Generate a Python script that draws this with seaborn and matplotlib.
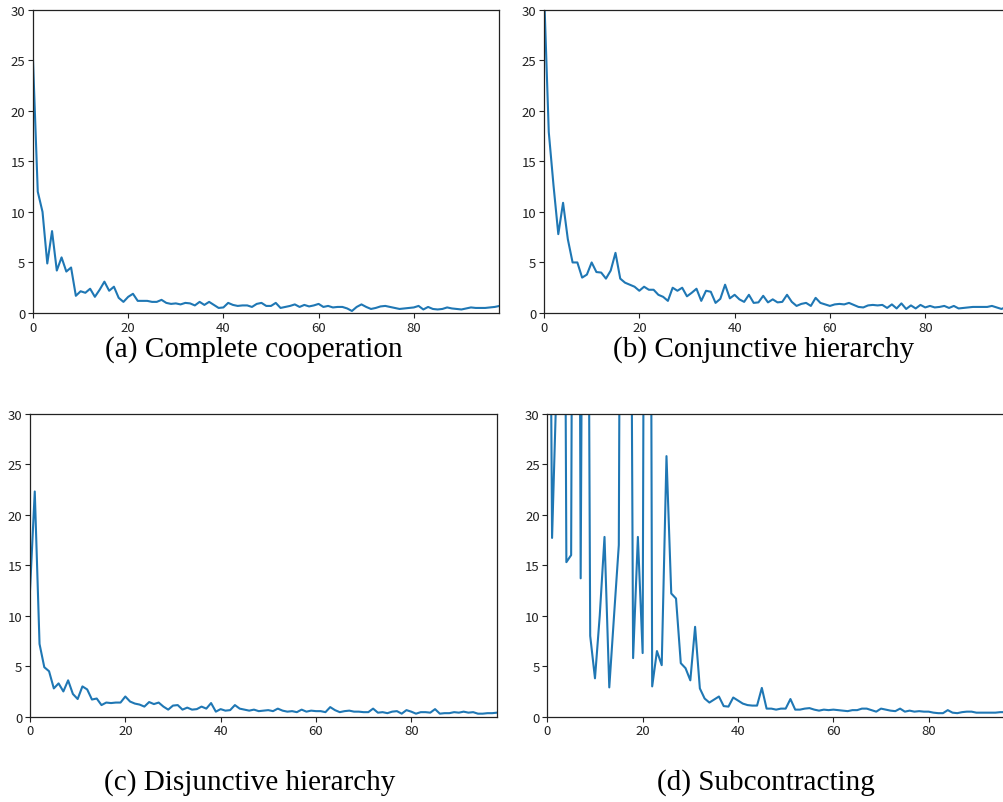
import matplotlib
matplotlib.use("Agg")
import matplotlib.pyplot as plt
import seaborn as sns
import numpy as np

steps = list(range(99))

complete_coop = [25, 12, 10, 4.9, 8.1, 4.2, 5.5, 4.1, 4.5, 1.7,
                 2.15, 2.0, 2.4, 1.6, 2.3, 3.1, 2.2, 2.6, 1.5, 1.1,
                 1.6, 1.9, 1.2, 1.2, 1.2, 1.1, 1.1, 1.3, 1.0, 0.9,
                 0.95, 0.85, 1.0, 0.95, 0.75, 1.1, 0.8, 1.1, 0.8, 0.5,
                 0.55, 1.0, 0.8, 0.7, 0.75, 0.75, 0.6, 0.9, 1.0, 0.7,
                 0.7, 1.0, 0.5, 0.6, 0.7, 0.85, 0.6, 0.8, 0.65, 0.75,
                 0.9, 0.6, 0.7, 0.55, 0.6, 0.6, 0.45, 0.2, 0.6, 0.85,
                 0.6, 0.4, 0.5, 0.65, 0.7, 0.6, 0.5, 0.4, 0.45, 0.5,
                 0.55, 0.7, 0.35, 0.6, 0.4, 0.35, 0.4, 0.55, 0.45, 0.4,
                 0.35, 0.45, 0.55, 0.5, 0.5, 0.5, 0.55, 0.6, 0.7]

conjunctive = [32, 17.9, 12.6, 7.8, 10.9, 7.3, 5.0, 5.0, 3.5, 3.8,
               5.0, 4.05, 4.0, 3.4, 4.2, 5.95, 3.4, 3.0, 2.8, 2.6,
               2.2, 2.6, 2.3, 2.3, 1.8, 1.6, 1.2, 2.5, 2.2, 2.5,
               1.65, 2.0, 2.4, 1.2, 2.2, 2.1, 1.0, 1.4, 2.8, 1.45,
               1.8, 1.35, 1.1, 1.8, 1.0, 1.05, 1.7, 1.05, 1.35, 1.05,
               1.1, 1.8, 1.1, 0.7, 0.9, 1.0, 0.7, 1.5, 1.0, 0.85,
               0.7, 0.85, 0.9, 0.85, 1.0, 0.8, 0.6, 0.55, 0.75, 0.8,
               0.75, 0.8, 0.5, 0.85, 0.45, 0.95, 0.4, 0.75, 0.45, 0.8,
               0.55, 0.7, 0.55, 0.6, 0.7, 0.5, 0.7, 0.45, 0.5, 0.55,
               0.6, 0.6, 0.6, 0.6, 0.7, 0.55, 0.4, 0.6, 0.55]

disjunctive = [12.5, 22.3, 7.2, 4.9, 4.5, 2.8, 3.3, 2.5, 3.6, 2.25,
               1.75, 3.0, 2.7, 1.7, 1.8, 1.15, 1.4, 1.35, 1.4, 1.4,
               2.0, 1.5, 1.3, 1.2, 1.0, 1.45, 1.25, 1.4, 1.0, 0.7,
               1.1, 1.15, 0.7, 0.9, 0.7, 0.75, 1.0, 0.8, 1.35, 0.5,
               0.75, 0.6, 0.65, 1.15, 0.8, 0.7, 0.6, 0.7, 0.55, 0.6,
               0.65, 0.55, 0.8, 0.6, 0.5, 0.55, 0.45, 0.7, 0.5, 0.6,
               0.55, 0.55, 0.45, 0.95, 0.65, 0.45, 0.55, 0.6, 0.5, 0.5,
               0.45, 0.45, 0.8, 0.4, 0.45, 0.35, 0.5, 0.55, 0.3, 0.65,
               0.5, 0.3, 0.45, 0.45, 0.4, 0.75, 0.3, 0.35, 0.35, 0.45,
               0.4, 0.5, 0.4, 0.45, 0.3, 0.3, 0.35, 0.35, 0.4]

subcontracting = [90, 17.7, 34, 120, 15.3, 16.0, 150, 13.7, 110, 8.0,
                  3.8, 10.0, 17.8, 2.9, 10.0, 17.0, 140, 100, 5.8, 17.8,
                  6.3, 160, 3.0, 6.5, 5.1, 25.8, 12.2, 11.7, 5.3, 4.8,
                  3.6, 8.9, 2.8, 1.8, 1.4, 1.7, 2.0, 1.05, 1.0, 1.9,
                  1.6, 1.3, 1.15, 1.1, 1.1, 2.85, 0.8, 0.8, 0.7, 0.8,
                  0.8, 1.75, 0.7, 0.7, 0.8, 0.85, 0.7, 0.6, 0.7, 0.65,
                  0.7, 0.65, 0.6, 0.55, 0.65, 0.65, 0.8, 0.8, 0.65, 0.5,
                  0.8, 0.7, 0.6, 0.55, 0.8, 0.5, 0.6, 0.5, 0.55, 0.5,
                  0.5, 0.4, 0.35, 0.35, 0.65, 0.4, 0.35, 0.45, 0.5, 0.5,
                  0.4, 0.4, 0.4, 0.4, 0.4, 0.45, 0.45, 0.4, 0.45]

captions = ["(a) Complete cooperation", "(b) Conjunctive hierarchy",
            "(c) Disjunctive hierarchy", "(d) Subcontracting"]
series = [complete_coop, conjunctive, disjunctive, subcontracting]
x_ticks = [0, 20, 40, 60, 80]
y_ticks = [0, 5, 10, 15, 20, 25, 30]

plt.rcParams['font.family'] = ['Noto Sans CJK KR', 'DejaVu Sans']

W, H = 1004, 803
fig = plt.figure(figsize=(W / 100, H / 100), dpi=100)

# axes boxes in pixels: left, top, right, bottom
boxes = [(33, 10.7, 499.5, 314),
         (544, 10.7, 1011, 314),
         (30, 414.7, 497, 717.7),
         (547.3, 414.7, 1014.5, 717.7)]
cap_pos = [(254, 350), (764, 350), (250, 783), (766, 783)]

for vals, cap, (l, t, r, b), (cx, cy) in zip(series, captions, boxes, cap_pos):
    ax = fig.add_axes([l / W, 1 - b / H, (r - l) / W, (b - t) / H])
    sns.lineplot(x=steps, y=vals, ax=ax, color='#1f77b4', linewidth=1.5)
    ax.set_xlim(0, 98)
    ax.set_ylim(0, 30)
    ax.set_xticks(x_ticks)
    ax.set_yticks(y_ticks)
    ax.tick_params(labelsize=9.5, length=3.5, width=0.8, colors='#222222', pad=2)
    for s in ax.spines.values():
        s.set_linewidth(0.9)
        s.set_color('#222222')
    ax.set_xlabel('')
    ax.set_ylabel('')
    fig.text(cx / W, 1 - cy / H, cap, ha='center', va='center',
             family=['Liberation Serif', 'DejaVu Serif'], fontsize=21, color='black')

fig.savefig('out.png', dpi=100)
